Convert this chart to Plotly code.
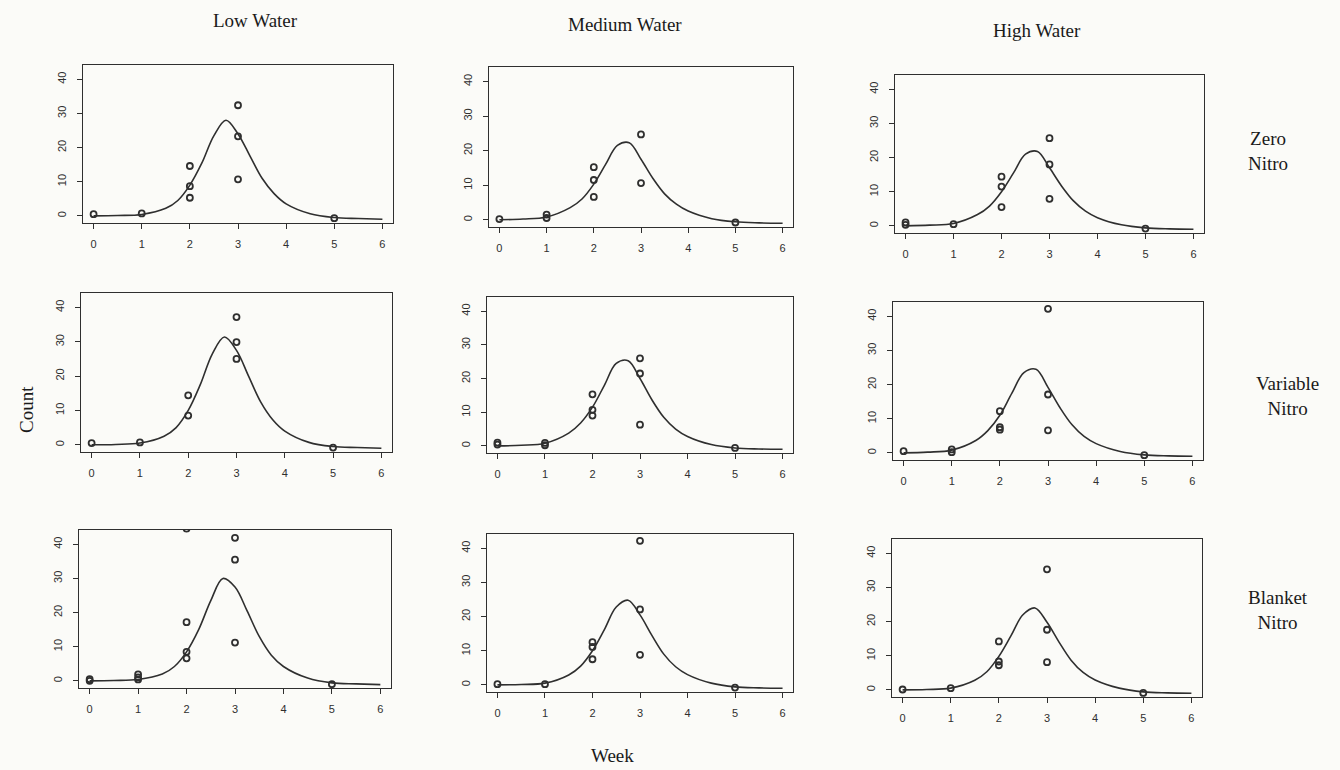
import plotly.graph_objects as go

# ---------------- data ----------------
water_levels = ["Low Water", "Medium Water", "High Water"]
nitro_levels = ["Zero<br>Nitro", "Variable<br>Nitro", "Blanket<br>Nitro"]

x_ticks = [0, 1, 2, 3, 4, 5, 6]
y_ticks = [0, 10, 20, 30, 40]

# panel order: row (nitro) major, column (water) minor
pts_x_lz = [0, 1, 2, 2, 2, 3, 3, 3, 5]
pts_y_lz = [0.5, 0.7, 14.6, 8.7, 5.3, 32.4, 23.3, 10.7, -0.7]
pts_x_mz = [0, 1, 1, 2, 2, 2, 3, 3, 5]
pts_y_mz = [0.2, 1.5, 0.5, 15.2, 11.5, 6.6, 24.7, 10.6, -0.8]
pts_x_hz = [0, 0, 1, 2, 2, 2, 3, 3, 3, 5]
pts_y_hz = [1.0, 0.3, 0.5, 14.4, 11.5, 5.5, 25.7, 18.0, 7.9, -0.8]

pts_x_lv = [0, 1, 2, 2, 3, 3, 3, 5]
pts_y_lv = [0.5, 0.7, 14.4, 8.5, 37.2, 29.9, 25.0, -0.8]
pts_x_mv = [0, 0, 1, 1, 2, 2, 2, 3, 3, 3, 5]
pts_y_mv = [1.0, 0.4, 0.9, 0.2, 15.3, 10.7, 9.0, 26.0, 21.5, 6.3, -0.6]
pts_x_hv = [0, 1, 1, 2, 2, 2, 3, 3, 3, 5]
pts_y_hv = [0.5, 1.0, 0.2, 12.2, 7.5, 6.8, 42.2, 17.1, 6.6, -0.7]

pts_x_lb = [0, 0, 1, 1, 1, 2, 2, 2, 2, 3, 3, 3, 5]
pts_y_lb = [0.5, 0.0, 1.9, 1.0, 0.4, 44.6, 17.2, 8.5, 6.6, 41.9, 35.5, 11.2, -1.0]
pts_x_mb = [0, 1, 2, 2, 2, 3, 3, 3, 5]
pts_y_mb = [0.2, 0.2, 12.5, 11.1, 7.5, 42.2, 22.1, 8.8, -0.8]
pts_x_hb = [0, 1, 2, 2, 2, 3, 3, 3, 5]
pts_y_hb = [0.1, 0.5, 14.2, 8.3, 7.2, 35.3, 17.6, 8.1, -0.9]

# fitted curves
curve_x = [0, 0.5, 1, 1.5, 1.75, 2, 2.25, 2.5, 2.75, 3, 3.25, 3.5, 3.75, 4, 4.5, 5, 5.5, 6]
curve_lz = [0, 0.1, 0.4, 2.2, 4.5, 9, 15.5, 23.5, 28, 24.0, 17.5, 11, 6.5, 3.5, 0.6, -0.5, -0.8, -1.0]
curve_mz = [0, 0.2, 0.8, 3.5, 6, 10.3, 16, 21.5, 22.3, 17.5, 12, 7.5, 4.5, 2.5, 0.3, -0.6, -0.9, -1.0]
curve_hz = [0, 0.2, 0.7, 3.3, 5.8, 10, 15.5, 21, 21.8, 17, 11.7, 7.3, 4.3, 2.4, 0.3, -0.6, -0.9, -1.0]
curve_lv = [0, 0.1, 0.5, 2.5, 5, 10, 17.5, 26.5, 31.4, 27.5, 20, 12.5, 7.3, 4, 0.7, -0.5, -0.8, -1.0]
curve_mv = [0, 0.2, 0.8, 3.8, 6.8, 11.5, 18, 24.5, 25.3, 20, 13.7, 8.5, 5, 2.8, 0.4, -0.6, -0.9, -1.0]
curve_hv = [0, 0.2, 0.8, 3.6, 6.5, 11, 17.5, 23.5, 24.5, 19.2, 13.2, 8.2, 4.8, 2.7, 0.4, -0.6, -0.9, -1.0]
curve_lb = [0, 0.1, 0.4, 2.0, 4.2, 8.5, 15, 23.5, 30, 27.5, 20.5, 13, 7.5, 4.2, 0.8, -0.6, -0.9, -1.1]
curve_mb = [0, 0.1, 0.5, 2.9, 5.5, 10, 16.2, 22.8, 24.8, 20.5, 14.5, 9, 5.3, 3, 0.5, -0.6, -0.9, -1.0]
curve_hb = [0, 0.1, 0.5, 2.8, 5.3, 9.8, 15.8, 22, 24, 19.8, 14, 8.7, 5.1, 2.9, 0.5, -0.6, -0.9, -1.0]

panels = [
    (pts_x_lz, pts_y_lz, curve_lz), (pts_x_mz, pts_y_mz, curve_mz), (pts_x_hz, pts_y_hz, curve_hz),
    (pts_x_lv, pts_y_lv, curve_lv), (pts_x_mv, pts_y_mv, curve_mv), (pts_x_hv, pts_y_hv, curve_hv),
    (pts_x_lb, pts_y_lb, curve_lb), (pts_x_mb, pts_y_mb, curve_mb), (pts_x_hb, pts_y_hb, curve_hb),
]

# ---------------- layout (page-pixel boxes: left, right, top, bottom) ----------------
W, H = 1340, 770


def fx(px):
    return px / W


def fy(py):
    return 1 - py / H


boxes = [
    (83, 393, 65, 223), (489, 793, 67, 227), (895, 1204, 75, 233),
    (81, 392, 293, 452), (487, 793, 297, 453), (893, 1203, 302, 460),
    (79, 391, 530, 688), (487, 793, 534, 692), (892, 1202, 539, 697),
]

ink = "#2f2f2f"
bg = "#fbfbf8"
fig = go.Figure()
layout = dict(
    width=W, height=H, margin=dict(l=0, r=0, t=0, b=0),
    paper_bgcolor=bg, plot_bgcolor=bg, showlegend=False,
)

for i, ((px, py, cy), (l, r, t, b)) in enumerate(zip(panels, boxes)):
    n = "" if i == 0 else str(i + 1)
    xa, ya = "x" + n, "y" + n
    fig.add_trace(go.Scatter(x=curve_x, y=cy, mode="lines",
                             line=dict(color=ink, width=1.6, shape="spline", smoothing=1.0),
                             xaxis=xa, yaxis=ya, hoverinfo="skip"))
    fig.add_trace(go.Scatter(x=px, y=py, mode="markers",
                             marker=dict(symbol="circle-open", size=6, color=ink, line=dict(width=1.8, color=ink)),
                             xaxis=xa, yaxis=ya, cliponaxis=True))
    common = dict(showline=True, mirror=True, linecolor=ink, linewidth=1.3, showgrid=False, zeroline=False,
                  ticks="outside", ticklen=5, tickwidth=1.2, tickcolor=ink,
                  tickfont=dict(family="Liberation Sans, Arial", size=11, color=ink))
    layout["xaxis" + n] = dict(common, domain=[fx(l), fx(r)], range=[-0.22, 6.22], tickvals=x_ticks,
                               anchor=ya, ticklabelstandoff=6)
    layout["yaxis" + n] = dict(common, domain=[fy(b), fy(t)], range=[-2.1, 44.2], tickvals=y_ticks,
                               tickangle=-90, anchor=xa, ticklabelstandoff=6)

serif = dict(family="Liberation Serif, Times New Roman, serif", size=19, color="#1a1a1a")
ann = []
col_pos = [(255, 20), (625, 25), (1037, 31)]
for txt, (cx, cy_) in zip(water_levels, col_pos):
    ann.append(dict(text=txt, x=fx(cx), y=fy(cy_), xref="paper", yref="paper", showarrow=False, font=serif,
                    xanchor="center", yanchor="middle"))
row_pos = [(1268, 151), (1287, 396), (1278, 610)]
for txt, (cx, cy_) in zip(nitro_levels, row_pos):
    ann.append(dict(text=txt, x=fx(cx), y=fy(cy_), xref="paper", yref="paper", showarrow=False, font=serif,
                    align="center", xanchor="center", yanchor="middle"))
ann.append(dict(text="Count", x=fx(27), y=fy(410), xref="paper", yref="paper", showarrow=False,
                textangle=-90, font=serif, xanchor="center", yanchor="middle"))
ann.append(dict(text="Week", x=fx(612), y=fy(755), xref="paper", yref="paper", showarrow=False, font=serif,
                xanchor="center", yanchor="middle"))
layout["annotations"] = ann

fig.update_layout(**layout)
fig.write_html(
    "out.html",
    config={"displayModeBar": False},
    post_script="document.body.style.margin='0';document.body.style.overflow='hidden';"
                "document.body.style.background='%s';" % bg,
)
